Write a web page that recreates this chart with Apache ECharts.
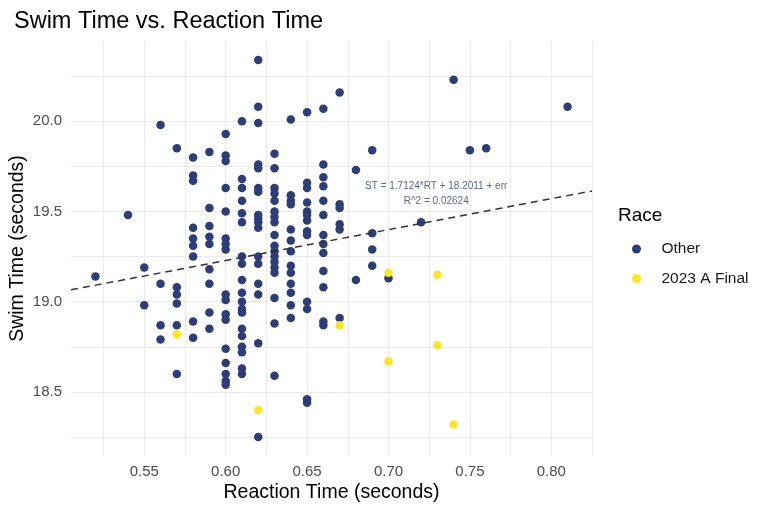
<!DOCTYPE html>
<html><head><meta charset="utf-8">
<script src="https://cdn.jsdelivr.net/npm/echarts@6/dist/echarts.min.js"></script>
<style>html,body{margin:0;padding:0;background:#fff}#chart{width:768px;height:512px}</style>
</head><body><div id="chart"></div>
<script>
// Reaction time columns (seconds) for "Other" swims and the swim times at each
const otherRT = [0.52, 0.54, 0.55, 0.56, 0.57, 0.58, 0.59, 0.60, 0.61, 0.62, 0.63, 0.64, 0.65, 0.66, 0.67, 0.68, 0.69, 0.70, 0.72, 0.74, 0.75, 0.76, 0.81];
const otherST = [
  [19.14],
  [19.48],
  [19.19, 18.98],
  [19.98, 19.10, 18.87, 18.79],
  [19.85, 19.08, 19.04, 18.99, 18.87, 18.60],
  [19.80, 19.70, 19.67, 19.41, 19.35, 19.31, 19.25, 18.89, 18.80],
  [19.83, 19.52, 19.42, 19.36, 19.32, 19.18, 19.10, 18.94, 18.85],
  [19.93, 19.81, 19.78, 19.63, 19.50, 19.35, 19.32, 19.29, 19.04, 19.01, 18.93, 18.90, 18.74, 18.66, 18.60, 18.56, 18.54],
  [20.00, 19.68, 19.63, 19.56, 19.49, 19.44, 19.25, 19.21, 19.12, 19.05, 19.00, 18.96, 18.94, 18.85, 18.81, 18.75, 18.72, 18.63, 18.60],
  [20.34, 20.08, 19.99, 19.76, 19.74, 19.63, 19.61, 19.48, 19.46, 19.44, 19.41, 19.25, 19.21, 19.10, 19.04, 18.77, 18.25],
  [19.82, 19.74, 19.63, 19.60, 19.56, 19.50, 19.47, 19.44, 19.37, 19.31, 19.28, 19.25, 19.22, 19.19, 19.16, 19.02, 18.88, 18.59],
  [20.01, 19.59, 19.56, 19.54, 19.40, 19.34, 19.28, 19.20, 19.16, 19.10, 19.05, 18.98, 18.91],
  [20.05, 19.66, 19.63, 19.55, 19.50, 19.48, 19.45, 19.39, 19.37, 19.00, 18.96, 18.46, 18.44],
  [20.07, 19.76, 19.69, 19.64, 19.56, 19.48, 19.37, 19.32, 19.27, 19.17, 19.08, 18.89, 18.87],
  [20.16, 19.54, 19.52, 19.43, 19.40, 18.91],
  [19.73, 19.12],
  [19.84, 19.38, 19.29, 19.20],
  [19.13],
  [19.44],
  [20.23],
  [19.84],
  [19.85],
  [20.08]
];
// 2023 A Final swims
const finalRT = [0.57, 0.62, 0.67, 0.70, 0.70, 0.73, 0.73, 0.74];
const finalST = [18.82, 18.40, 18.87, 19.16, 18.67, 19.15, 18.76, 18.32];
// Fitted line and annotation
const fitSlope = 1.7124;
const fitIntercept = 18.2011;
const fitR2 = 0.02624;
const annotRT = 0.7293;
const annotST = 19.598;
// Tick labels
const xTickLabels = [0.55, 0.60, 0.65, 0.70, 0.75, 0.80];
const yTickLabels = [18.5, 19.0, 19.5, 20.0];
const seriesNames = ['Other', '2023 A Final'];

const X_MIN = 0.505, X_MAX = 0.825, Y_MIN = 18.145, Y_MAX = 20.445;
const GRID = '#ebebeb', CLEAR = 'rgba(0,0,0,0)';
const xColors = []; for (let i = 0; i < 10; i++) xColors.push(i === 8 ? GRID : CLEAR);
const yColors = []; for (let i = 0; i < 50; i++) yColors.push(i === 21 ? GRID : CLEAR);

const otherData = [];
otherRT.forEach((rt, i) => otherST[i].forEach(st => otherData.push([rt, st])));
const finalData = finalRT.map((rt, i) => [rt, finalST[i]]);
const fitData = [X_MIN, X_MAX].map(x => [x, fitIntercept + fitSlope * x]);

const FONT = '"Liberation Sans", Arial, sans-serif';
const near = (v, arr) => arr.some(t => Math.abs(v - t) < 1e-6);

const chart = echarts.init(document.getElementById('chart'), null, {renderer: 'canvas'});
chart.setOption({
  animation: false,
  backgroundColor: '#fff',
  textStyle: {fontFamily: FONT},
  title: [
    {text: 'Swim Time vs. Reaction Time', left: 9, top: 5,
     textStyle: {fontSize: 23.5, fontWeight: 'normal', color: '#000', fontFamily: FONT}},
    {text: 'Race', left: 613, top: 201,
     textStyle: {fontSize: 19, fontWeight: 'normal', color: '#000', fontFamily: FONT}}
  ],
  legend: {
    data: seriesNames, orient: 'vertical', left: 627, top: 236,
    itemWidth: 40, itemHeight: 9, itemGap: 13.5, icon: 'circle',
    textStyle: {fontSize: 15.5, color: '#1a1a1a', fontFamily: FONT}
  },
  grid: {left: 71, right: 176, top: 41, bottom: 56, containLabel: false, outerBoundsMode: 'none'},
  xAxis: {
    type: 'value', min: X_MIN, max: X_MAX, interval: 0.0025,
    name: 'Reaction Time (seconds)', nameLocation: 'middle', nameGap: 27, nameMoveOverlap: false,
    nameTextStyle: {fontSize: 19.5, color: '#000', fontFamily: FONT},
    axisLine: {show: false}, axisTick: {show: false},
    axisLabel: {margin: 8, fontSize: 15, color: '#4d4d4d', fontFamily: FONT,
      formatter: v => near(v, xTickLabels) ? v.toFixed(2) : ''},
    splitLine: {show: true, lineStyle: {color: xColors, width: 1}}
  },
  yAxis: {
    type: 'value', min: Y_MIN, max: Y_MAX, interval: 0.005,
    name: 'Swim Time (seconds)', nameLocation: 'middle', nameGap: 43, nameRotate: 90, nameMoveOverlap: false,
    nameTextStyle: {fontSize: 19.5, color: '#000', fontFamily: FONT},
    axisLine: {show: false}, axisTick: {show: false},
    axisLabel: {margin: 9, fontSize: 15, color: '#4d4d4d', fontFamily: FONT,
      formatter: v => near(v, yTickLabels) ? v.toFixed(1) : ''},
    splitLine: {show: true, lineStyle: {color: yColors, width: 1}}
  },
  series: [
    {name: seriesNames[0], type: 'scatter', data: otherData, symbolSize: 8.5,
     itemStyle: {color: '#2c3d78', opacity: 1}, z: 3},
    {name: seriesNames[1], type: 'scatter', data: finalData, symbolSize: 8.5,
     itemStyle: {color: '#fde725', opacity: 1}, z: 3},
    {name: 'fit', type: 'line', data: fitData, symbol: 'none', silent: true,
     lineStyle: {color: '#333', width: 1.5, type: [7, 5]}, z: 4},
    {name: 'annot', type: 'scatter', data: [[annotRT, annotST]], symbolSize: 0, silent: true, z: 5,
     label: {show: true, position: 'inside', fontSize: 10, lineHeight: 15, color: '#2c3d78', fontFamily: FONT,
       formatter: () => 'ST = ' + fitSlope + '*RT + ' + fitIntercept + ' + err\nR^2 = ' + fitR2}}
  ]
});
</script></body></html>
